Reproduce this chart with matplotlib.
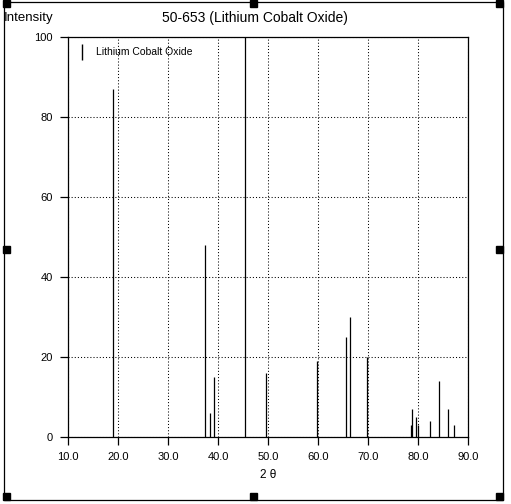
import matplotlib.pyplot as plt
from matplotlib.patches import Rectangle
from matplotlib.lines import Line2D

# peak positions (2 theta) and relative intensities
two_theta = [18.9, 37.4, 38.4, 39.1, 45.3, 49.5, 59.7, 65.5, 66.3, 69.7,
             78.5, 78.7, 79.5, 79.9, 82.3, 84.1, 85.9, 87.1]
intensity = [87, 48, 6, 15, 100, 16, 19, 25, 30, 20,
             3, 7, 5, 3, 4, 14, 7, 3]

xticks = [10, 20, 30, 40, 50, 60, 70, 80, 90]
yticks = [0, 20, 40, 60, 80, 100]

plt.rcParams['font.family'] = ['Liberation Sans', 'DejaVu Sans']

W, H = 511, 504
fig = plt.figure(figsize=(W / 100, H / 100), dpi=100)
ax = fig.add_axes([68 / W, 67 / H, 400 / W, 400 / H])

ax.vlines(two_theta, 0, intensity, colors='black', linewidth=0.9)

ax.set_xlim(10, 90)
ax.set_ylim(0, 100)
ax.set_xticks(xticks)
ax.set_xticklabels([f"{t:.1f}" for t in xticks], fontsize=8)
ax.set_yticks(yticks)
ax.set_yticklabels([str(t) for t in yticks], fontsize=8)
ax.tick_params(direction='out', length=6, width=0.9, pad=5)
ax.grid(True, linestyle=(0, (1, 2)), color='black', linewidth=0.75)
for s in ax.spines.values():
    s.set_linewidth(0.9)

ax.set_xlabel("2 \u03b8", fontsize=8.5, labelpad=5)

handle = Line2D([], [], color='black', marker='|', linestyle='None', markersize=11)
ax.legend([handle], ["Lithium Cobalt Oxide"], loc='upper left', frameon=False,
          fontsize=7.5, handletextpad=0.4, bbox_to_anchor=(-0.01, 0.992), borderaxespad=0.3)

fig.text(4 / W, 1 - 18 / H, "Intensity", fontsize=9.5, va='center', ha='left')
fig.text(255 / W, 1 - 18 / H, "50-653 (Lithium Cobalt Oxide)", fontsize=10,
         va='center', ha='center')

# outer frame with selection handles
fig.patches.append(Rectangle((4 / W, 4 / H), 499 / W, 498 / H,
                             transform=fig.transFigure, fill=False,
                             edgecolor='black', linewidth=0.9))
for hx in [3, 250, 496]:
    for hy in [4, 251, 497]:
        if hx == 250 and hy == 251:
            continue
        fig.patches.append(Rectangle((hx / W, hy / H), 7 / W, 7 / H,
                                     transform=fig.transFigure, color='black'))

fig.savefig("out.png", dpi=100)
